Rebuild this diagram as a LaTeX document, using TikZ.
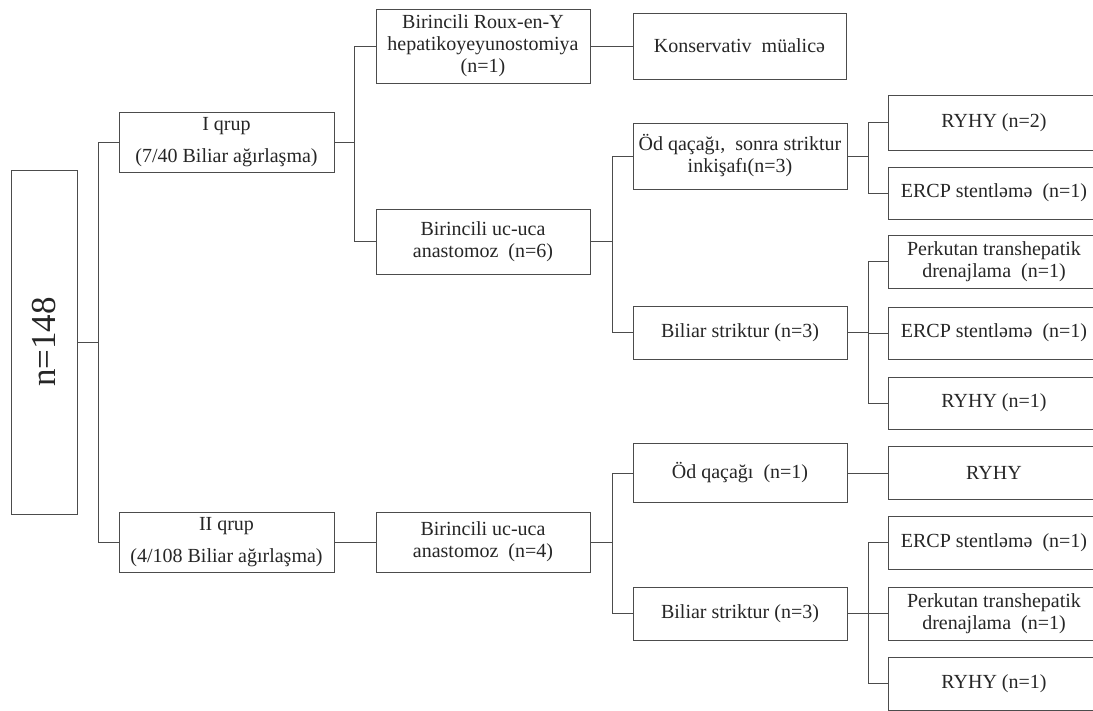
\documentclass[tikz,border=0pt]{standalone}
\usepackage{graphicx}
\usepackage{fontspec}
\setmainfont{Liberation Serif}
\begin{document}
\begin{tikzpicture}[x=1pt,y=-1pt,
  box/.style={draw=black!70, line width=0.9pt, align=center, inner sep=0pt,
    font=\fontsize{20}{22}\selectfont, text=black!85},
  midbox/.style={box, minimum width=214pt},
  rbox/.style={box, minimum width=212pt, minimum height=53pt},
  wire/.style={draw=black!70, line width=0.9pt}]
\useasboundingbox (0,0) rectangle (1093,711);
\clip (0,0) rectangle (1093,711);
\fill[white] (0,0) rectangle (1093,711);

% nodes
\node[box, minimum width=66pt, minimum height=344pt] (root) at (44,342)
  {\rotatebox{90}{\fontsize{35}{40}\selectfont n=148}};
\node[box, minimum width=215pt, minimum height=60pt] (g1) at (226.5,142)
  {I qrup\\[10pt](7/40 Biliar ağırlaşma)};
\node[box, minimum width=215pt, minimum height=60pt] (g2) at (226.5,542)
  {II qrup\\[10pt](4/108 Biliar ağırlaşma)};

\node[midbox, minimum height=74pt] (roux) at (483,46)
  {Birincili Roux-en-Y\\hepatikoyeyunostomiya\\(n=1)};
\node[midbox, minimum height=65pt] (uc1) at (483,241.5)
  {Birincili uc-uca\\anastomoz\ \ (n=6)};
\node[midbox, minimum height=60pt] (uc2) at (483,542)
  {Birincili uc-uca\\anastomoz\ \ (n=4)};

\node[midbox, minimum width=213pt, minimum height=66pt] (kons) at (739.5,46)
  {Konservativ\ \ müalicə};
\node[midbox, minimum height=66pt] (od1) at (740,156)
  {Öd qaçağı,\ \ sonra striktur\\inkişafı(n=3)};
\node[midbox, minimum height=53pt] (bs1) at (740,332.5)
  {Biliar striktur (n=3)};
\node[midbox, minimum height=59pt] (od2) at (740,473)
  {Öd qaçağı\ \ (n=1)};
\node[midbox, minimum height=53pt] (bs2) at (740,613.5)
  {Biliar striktur (n=3)};

\node[rbox, minimum height=55pt] (r2) at (994,122.5) {RYHY (n=2)};
\node[rbox, minimum height=52pt] (e1) at (994,193) {ERCP stentləmə\ \ (n=1)};
\node[rbox] (p1) at (994,261.5) {Perkutan transhepatik\\drenajlama\ \ (n=1)};
\node[rbox, minimum height=52pt] (e2) at (994,333) {ERCP stentləmə\ \ (n=1)};
\node[rbox, minimum height=52pt] (ry1) at (994,403) {RYHY (n=1)};
\node[rbox] (ry) at (994,473) {RYHY};
\node[rbox] (e3) at (994,542.5) {ERCP stentləmə\ \ (n=1)};
\node[rbox] (p2) at (994,613.5) {Perkutan transhepatik\\drenajlama\ \ (n=1)};
\node[rbox] (ry2) at (994,683.5) {RYHY (n=1)};

% junctions
\coordinate (j0) at (98,342);
\coordinate (j1) at (354,142);
\coordinate (j2) at (612,241.5);
\coordinate (j3) at (868,156);
\coordinate (j4) at (868,332.5);
\coordinate (j5) at (612,542);
\coordinate (j6) at (868,613.5);

% connectors
\draw[wire] (root.east) -- (j0);
\draw[wire] (g1.west) -| (j0);
\draw[wire] (g2.west) -| (j0);

\draw[wire] (g1.east) -- (j1);
\draw[wire] (roux.west) -| (j1);
\draw[wire] (uc1.west) -| (j1);

\draw[wire] (roux.east) -- (kons.west);

\draw[wire] (uc1.east) -- (j2);
\draw[wire] (od1.west) -| (j2);
\draw[wire] (bs1.west) -| (j2);

\draw[wire] (od1.east) -- (j3);
\draw[wire] (r2.west) -| (j3);
\draw[wire] (e1.west) -| (j3);

\draw[wire] (bs1.east) -- (j4);
\draw[wire] (p1.west) -| (j4);
\draw[wire] (e2.west) -| (j4);
\draw[wire] (ry1.west) -| (j4);

\draw[wire] (g2.east) -- (uc2.west);
\draw[wire] (uc2.east) -- (j5);
\draw[wire] (od2.west) -| (j5);
\draw[wire] (bs2.west) -| (j5);

\draw[wire] (od2.east) -- (ry.west);

\draw[wire] (bs2.east) -- (j6);
\draw[wire] (e3.west) -| (j6);
\draw[wire] (p2.west) -| (j6);
\draw[wire] (ry2.west) -| (j6);
\end{tikzpicture}
\end{document}
